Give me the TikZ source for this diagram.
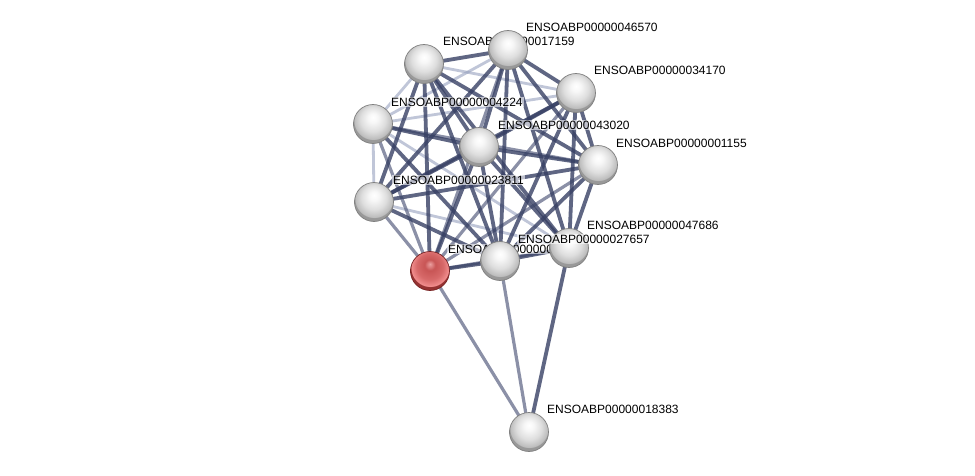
\documentclass[tikz,border=0pt]{standalone}
\usepackage{fontspec}
\setmainfont{Liberation Sans}
\pgfdeclareradialshading{greysphere}{\pgfqpoint{0bp}{9bp}}{%
  color(0bp)=(white); color(6bp)=(black!3); color(16bp)=(black!13); color(24bp)=(black!26); color(25bp)=(black!40); color(50bp)=(black!40)}
\pgfdeclareradialshading{redsphere}{\pgfqpoint{0bp}{9bp}}{%
  color(0bp)=(rgb,255:red,235;green,160;blue,160); color(7bp)=(rgb,255:red,200;green,85;blue,85); color(17bp)=(rgb,255:red,215;green,105;blue,105); color(24bp)=(rgb,255:red,240;green,140;blue,140); color(25bp)=(rgb,255:red,150;green,50;blue,50); color(50bp)=(rgb,255:red,150;green,50;blue,50)}
\begin{document}
\begin{tikzpicture}[x=1pt,y=-1pt,
  prot/.style={circle,minimum size=39pt,inner sep=0pt,draw=black!50,line width=0.7pt,shading=greysphere},
  query/.style={prot,shading=redsphere,draw={rgb,255:red,120;green,35;blue,35}},
  lab/.style={anchor=west,inner sep=1pt,fill=white,fill opacity=0.6,text opacity=1,font=\fontsize{12}{14}\selectfont},
  strong/.style={draw={rgb,255:red,55;green,64;blue,100},line width=3.8pt,draw opacity=0.8},
  mid/.style={draw={rgb,255:red,90;green,98;blue,130},line width=3.2pt,draw opacity=0.7},
  weak/.style={draw={rgb,255:red,150;green,160;blue,190},line width=2.8pt,draw opacity=0.6}]
\useasboundingbox (0,0) rectangle (975,476);
\fill[white] (0,0) rectangle (975,476);
% coordinates
\coordinate (A) at (424,64);
\coordinate (B) at (508,50);
\coordinate (C) at (576,93);
\coordinate (D) at (373,124);
\coordinate (E) at (479,147);
\coordinate (F) at (598,165);
\coordinate (G) at (374,202);
\coordinate (H) at (430,271);
\coordinate (I) at (500,261);
\coordinate (J) at (569,248);
\coordinate (K) at (529,432);
% edges
\draw[weak] (A)--(D);
\draw[weak] (B)--(D);
\draw[weak] (C)--(D);
\draw[weak] (D)--(G);
\draw[weak] (A)--(C);
\draw[weak] (G)--(J);
\draw[weak] (D)--(J);
\draw[mid] (G)--(H);
\draw[mid] (D)--(H);
\draw[mid] (H)--(C);
\draw[mid] (H)--(F);
\draw[mid] (H)--(K);
\draw[mid] (I)--(K);
\draw[strong] (J)--(K);
\draw[mid] (H)--(J);
\draw[mid] (D)--(F);
\draw[mid] (B)--(H);
\draw[strong] (A)--(B);
\draw[strong] (A)--(E);
\draw[strong] (A)--(F);
\draw[strong] (A)--(G);
\draw[strong] (A)--(I);
\draw[strong] (A)--(J);
\draw[strong] (A)--(H);
\draw[strong] (B)--(C);
\draw[strong] (B)--(E);
\draw[strong] (B)--(F);
\draw[strong] (B)--(G);
\draw[strong] (B)--(I);
\draw[strong] (B)--(J);
\draw[strong] (C)--(E);
\draw[strong] (C)--(F);
\draw[strong] (C)--(G);
\draw[strong] (C)--(I);
\draw[strong] (C)--(J);
\draw[strong] (D)--(E);
\draw[strong] (D)--(I);
\draw[strong] (E)--(F);
\draw[strong] (E)--(G);
\draw[strong] (E)--(I);
\draw[strong] (E)--(J);
\draw[strong] (E)--(H);
\draw[strong] (F)--(G);
\draw[strong] (F)--(I);
\draw[strong] (F)--(J);
\draw[strong] (G)--(I);
\draw[strong] (H)--(I);
\draw[strong] (I)--(J);
% nodes, each followed by its label
\node[prot] (nA) at (A) {};
\node[lab] (lA) at (442,41) {ENSOABP00000017159};
\node[prot] (nB) at (B) {};
\node[lab] (lB) at (525,27) {ENSOABP00000046570};
\node[prot] (nC) at (C) {};
\node[lab] (lC) at (593,70) {ENSOABP00000034170};
\node[prot] (nD) at (D) {};
\node[lab] (lD) at (390,102) {ENSOABP00000004224};
\node[prot] (nE) at (E) {};
\node[lab] (lE) at (497,125) {ENSOABP00000043020};
\node[prot] (nF) at (F) {};
\node[lab] (lF) at (615,143) {ENSOABP00000001155};
\node[prot] (nG) at (G) {};
\node[lab] (lG) at (392,180) {ENSOABP00000023811};
\node[query] (nH) at (H) {};
\node[lab] (lH) at (447,249) {ENSOABP00000001562};
\node[prot] (nJ) at (J) {};
\node[lab] (lJ) at (586,225) {ENSOABP00000047686};
\node[prot] (nI) at (I) {};
\node[lab] (lI) at (517,239) {ENSOABP00000027657};
\node[prot] (nK) at (K) {};
\node[lab] (lK) at (546,409) {ENSOABP00000018383};
\end{tikzpicture}
\end{document}
